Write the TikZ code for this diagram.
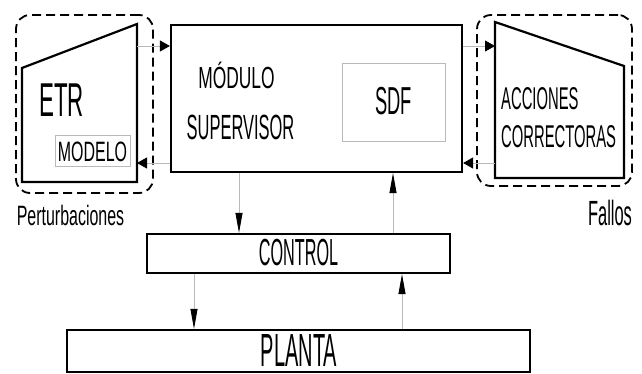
\documentclass[tikz,border=0pt]{standalone}
\usepackage{fontspec}
\setmainfont{Liberation Sans}
\newfontfamily\narrowfont[FakeStretch=0.47]{Liberation Sans}
\newfontfamily\semifont[FakeStretch=0.57]{Liberation Sans}
\newfontfamily\tightfont[FakeStretch=0.43]{Liberation Sans}
\usetikzlibrary{arrows.meta}
\begin{document}
\begin{tikzpicture}[x=1pt,y=-1pt,
  blockbox/.style={draw, line width=2.2pt, inner sep=0pt},
  innerbox/.style={draw=gray!55, line width=1pt, inner sep=0pt},
  shapearea/.style={inner sep=0pt, outer sep=1pt},
  dashframe/.style={draw, line width=1.8pt, dash pattern=on 9pt off 5pt, rounded corners=14pt, inner sep=0pt},
  hlink/.style={draw=gray!55, line width=0.9pt, -{Triangle[length=10pt,width=11pt,color=black]}},
  vlink/.style={draw=gray!55, line width=0.9pt, -{Triangle[length=20pt,width=7pt,color=black]}},
  txt/.style={inner sep=0pt, anchor=base, font=\narrowfont\fontsize{#1}{#1}\selectfont},
  semitxt/.style={inner sep=0pt, anchor=base, font=\semifont\fontsize{#1}{#1}\selectfont},
  tighttxt/.style={inner sep=0pt, anchor=base, font=\tightfont\fontsize{#1}{#1}\selectfont}]
\useasboundingbox (0,0) rectangle (642,374);

% dashed frames
\node[dashframe, minimum width=137pt, minimum height=178pt] (etrframe) at (84.5,104) {};
\node[dashframe, minimum width=155pt, minimum height=171pt] (accframe) at (554.5,100.5) {};

% ETR and ACCIONES CORRECTORAS
\node[shapearea, minimum width=113pt, minimum height=156pt] (etr) at (79.5,103) {};
\draw[line width=2.2pt] ([yshift=-44pt]etr.north west) -- (etr.north east) -- (etr.south east) -- (etr.south west) -- cycle;
\node[shapearea, minimum width=127pt, minimum height=154pt] (acc) at (559.5,100) {};
\draw[line width=2.2pt] (acc.north west) -- ([yshift=-44pt]acc.north east) -- (acc.south east) -- (acc.south west) -- cycle;
\node[innerbox, minimum width=75pt, minimum height=31pt] (modelo) at (92.5,151.5) {};

% main blocks
\node[blockbox, minimum width=291pt, minimum height=147pt] (sup) at (316.5,98.5) {};
\node[innerbox, minimum width=103pt, minimum height=78pt] (sdf) at (393.5,103) {};
\node[blockbox, minimum width=303pt, minimum height=39pt] (ctrl) at (298.5,253.5) {};
\node[blockbox, minimum width=463pt, minimum height=42pt] (planta) at (298.5,351) {};

% texts
\node[txt=47.5] (etrtxt) at (61.5,117) {ETR};
\node[semitxt=28] (modelotxt) at (92.5,162) {MODELO};
\node[semitxt=30.5] (modulotxt) at (236.5,89) {MÓDULO};
\node[txt=35] (supervisortxt) at (240.5,140) {SUPERVISOR};
\node[txt=39] (sdftxt) at (393.5,115) {SDF};
\node[txt=31.5, anchor=base west] (acciontxt) at (501,110) {ACCIONES};
\node[txt=31.5, anchor=base west] (correcttxt) at (501,148) {CORRECTORAS};
\node[tighttxt=37.7] (ctrltxt) at (298.5,265) {CONTROL};
\node[tighttxt=46.5] (plantatxt) at (299,366.5) {PLANTA};
\node[semitxt=28] (perturbtxt) at (70.5,225) {Perturbaciones};
\node[txt=35] (fallostxt) at (610,225) {Fallos};

% connectors
\coordinate (toprow) at (0,46);
\coordinate (lowrow) at (0,163);
\coordinate (colA) at (239,0);
\coordinate (colB) at (393,0);
\coordinate (colC) at (194,0);
\coordinate (colD) at (402,0);
\draw[hlink] (etr.east |- toprow) -- (sup.west |- toprow);
\draw[hlink] (sup.east |- toprow) -- (acc.west |- toprow);
\draw[hlink] (sup.west |- lowrow) -- (etr.east |- lowrow);
\draw[hlink] (acc.west |- lowrow) -- (sup.east |- lowrow);
\draw[vlink] (sup.south -| colA) -- (ctrl.north -| colA);
\draw[vlink] (ctrl.north -| colB) -- (sup.south -| colB);
\draw[vlink] (ctrl.south -| colC) -- (planta.north -| colC);
\draw[vlink] (planta.north -| colD) -- (ctrl.south -| colD);
\end{tikzpicture}
\end{document}
